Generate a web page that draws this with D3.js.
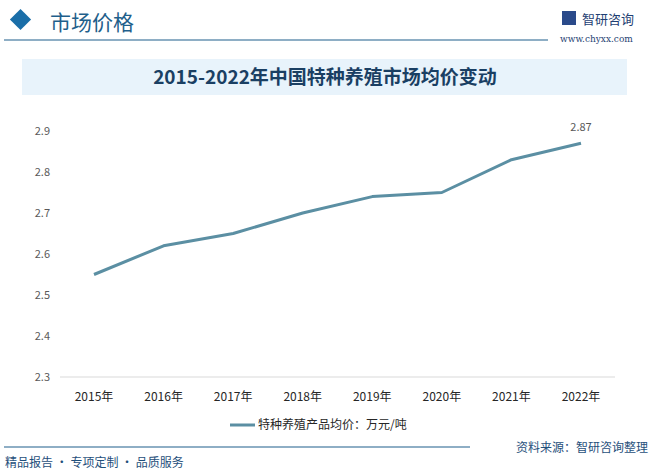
<!DOCTYPE html>
<html><head><meta charset="utf-8">
<script src="https://cdn.jsdelivr.net/npm/d3@7"></script>
<style>body{margin:0;background:#fff}svg{font-family:"Noto Sans CJK SC","Noto Sans",sans-serif}</style>
</head><body><div id="chart"></div>
<script>
const years = ['2015年','2016年','2017年','2018年','2019年','2020年','2021年','2022年'];
const prices = [2.55, 2.62, 2.65, 2.70, 2.74, 2.75, 2.83, 2.87];
const yTicks = [2.3, 2.4, 2.5, 2.6, 2.7, 2.8, 2.9];

const W = 652, H = 475;
const svg = d3.select('#chart').append('svg').attr('width', W).attr('height', H);

// header
svg.append('rect').attr('x', 13).attr('y', 12).attr('width', 15).attr('height', 15)
  .attr('transform', 'rotate(45 20.5 19.5)').attr('fill', '#1a6ea8');
svg.append('text').attr('x', 50).attr('y', 30).attr('font-size', 21).attr('fill', '#1f5f8b').text('市场价格');
svg.append('line').attr('x1', 4).attr('x2', 548).attr('y1', 40).attr('y2', 40).attr('stroke', '#1f5f8b').attr('stroke-width', 1.2);
svg.append('text').attr('x', 582).attr('y', 24).attr('font-size', 13).attr('fill', '#1f3f73').text('智研咨询');
svg.append('rect').attr('x', 562).attr('y', 11).attr('width', 14).attr('height', 14).attr('fill', '#2a4a8a');
svg.append('text').attr('x', 560).attr('y', 42).attr('font-size', 9).attr('fill', '#1f3f73').attr('font-family', 'DejaVu Serif').text('www.chyxx.com');

// title box
svg.append('rect').attr('x', 22).attr('y', 59).attr('width', 605).attr('height', 36).attr('fill', '#e8f3fb');
svg.append('text').attr('x', 325).attr('y', 84).attr('text-anchor', 'middle').attr('font-size', 19)
  .attr('font-weight', 'bold').attr('fill', '#1a3f63')
  .text('2015-2022年中国特种养殖市场均价变动');

// scales
const x = d3.scalePoint().domain(years).range([94, 581]);
const y = d3.scaleLinear().domain([2.3, 2.9]).range([377, 131]);

svg.append('line').attr('x1', 60).attr('x2', 615).attr('y1', y(2.3)).attr('y2', y(2.3)).attr('stroke', '#d9d9d9');

svg.selectAll('.yt').data(yTicks).join('text')
  .attr('x', 50).attr('y', d => y(d) + 4).attr('text-anchor', 'end')
  .attr('font-size', 11).attr('fill', '#595959').text(d => d.toFixed(1));

svg.selectAll('.xt').data(years).join('text')
  .attr('x', d => x(d)).attr('y', 401).attr('text-anchor', 'middle')
  .attr('font-size', 12).attr('fill', '#262626').text(d => d);

const line = d3.line().x((d, i) => x(years[i])).y(d => y(d));
svg.append('path').datum(prices).attr('d', line).attr('fill', 'none')
  .attr('stroke', '#5b8fa3').attr('stroke-width', 3).attr('stroke-linejoin', 'round');

svg.append('text').attr('x', x(years[7])).attr('y', y(prices[7]) - 12).attr('text-anchor', 'middle')
  .attr('font-size', 11).attr('fill', '#595959').text(prices[7].toFixed(2));

// legend
svg.append('line').attr('x1', 230).attr('x2', 255).attr('y1', 425).attr('y2', 425).attr('stroke', '#5b8fa3').attr('stroke-width', 3);
svg.append('text').attr('x', 258).attr('y', 429).attr('font-size', 12).attr('fill', '#262626').text('特种养殖产品均价：万元/吨');

// footer
svg.append('line').attr('x1', 4).attr('x2', 470).attr('y1', 447).attr('y2', 447).attr('stroke', '#1f5f8b').attr('stroke-width', 1.2);
svg.append('text').attr('x', 5).attr('y', 467).attr('font-size', 12).attr('fill', '#1f4f7b').text('精品报告 · 专项定制 · 品质服务');
svg.append('text').attr('x', 648).attr('y', 452).attr('text-anchor', 'end').attr('font-size', 12).attr('fill', '#1f4f7b').text('资料来源：智研咨询整理');
</script></body></html>
